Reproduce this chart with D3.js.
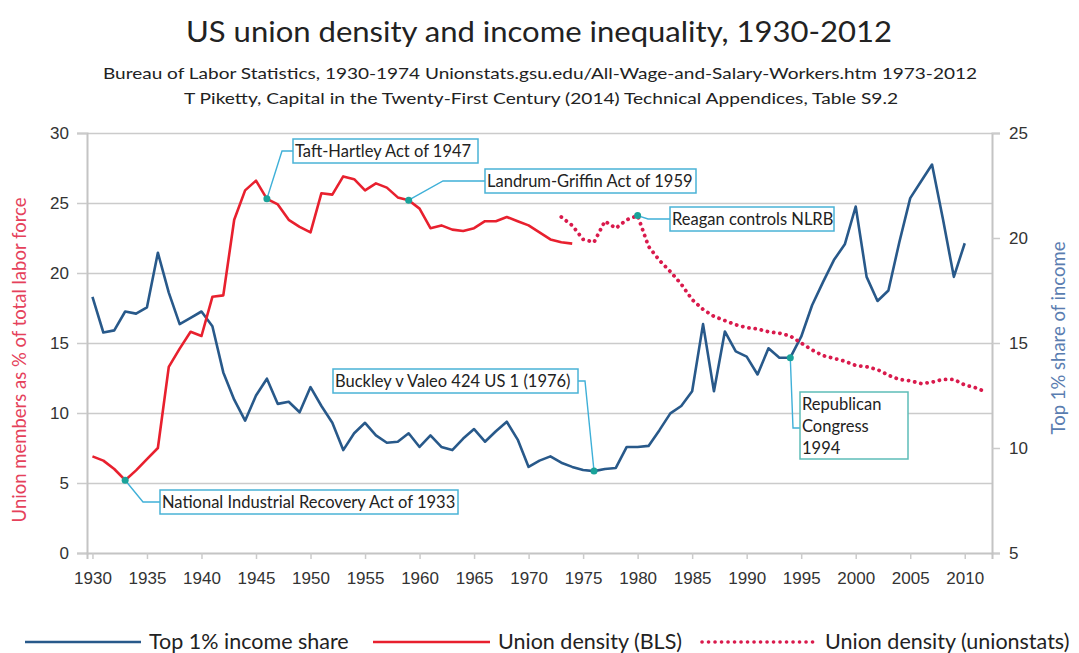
<!DOCTYPE html>
<html>
<head>
<meta charset="utf-8">
<script src="https://cdnjs.cloudflare.com/ajax/libs/d3/7.8.5/d3.min.js"></script>
<style>
  body { margin: 0; background: #fff; }
  svg { font-family: Lato, "Open Sans", sans-serif; }
  .grid line { stroke: #cbcbcb; stroke-width: 1.5; }
  .grid path { display: none; }
  .tick text { fill: #333; font-size: 17px; }
</style>
</head>
<body>
<div id="chart"></div>
<script>
// ---- data ----
var years = d3.range(1930, 2013);
var top_share = [17.2, 15.5, 15.6, 16.5, 16.4, 16.7, 19.3, 17.4, 15.9, 16.2,
  16.5, 15.8, 13.6, 12.3, 11.3, 12.5, 13.3, 12.1, 12.2, 11.7,
  12.9, 12.0, 11.2, 9.9, 10.7, 11.2, 10.6, 10.25, 10.3, 10.7,
  10.05, 10.6, 10.05, 9.9, 10.45, 10.9, 10.3, 10.8, 11.25, 10.4,
  9.1, 9.4, 9.6, 9.3, 9.1, 8.95, 8.9, 9.0, 9.05, 10.05,
  10.05, 10.1, 10.85, 11.65, 12.0, 12.7, 15.9, 12.7, 15.55, 14.6,
  14.35, 13.5, 14.75, 14.3, 14.3, 15.3, 16.8, 17.9, 18.95, 19.7,
  21.5, 18.15, 17.0, 17.5, 19.8, 21.9, 22.7, 23.5, 20.9, 18.15, 19.75]; // 1930-2010
var bls_density = [6.9, 6.6, 6.0, 5.2, 5.9, 6.7, 7.5, 13.3, 14.6, 15.8,
  15.5, 18.3, 18.4, 23.8, 25.9, 26.6, 25.3, 24.9, 23.8, 23.3,
  22.9, 25.7, 25.6, 26.9, 26.7, 25.9, 26.4, 26.1, 25.4, 25.2,
  24.6, 23.2, 23.4, 23.1, 23.0, 23.2, 23.7, 23.7, 24.0, 23.7,
  23.4, 22.9, 22.4, 22.2, 22.1]; // 1930-1974
var unionstats_density = [24.0, 23.4, 22.4, 22.2, 23.7, 23.2, 23.8, 24.1, 21.9, 20.9,
  20.1, 19.2, 18.1, 17.4, 16.9, 16.6, 16.3, 16.1, 16.0, 15.8,
  15.7, 15.5, 15.0, 14.5, 14.1, 13.9, 13.7, 13.4, 13.3, 13.1,
  12.7, 12.4, 12.3, 12.1, 12.2, 12.4, 12.4, 12.0, 11.8, 11.5]; // 1973-2012
var left_ticks = [0, 5, 10, 15, 20, 25, 30];
var right_ticks = [5, 10, 15, 20, 25];
var x_labels = d3.range(1930, 2011, 5);

// callouts: series + year they point at, and their text
var callouts = [
  {text: ['National Industrial Recovery Act of 1933'], series: 'bls', year: 1933},
  {text: ['Taft-Hartley Act of 1947'], series: 'bls', year: 1946},
  {text: ['Landrum-Griffin Act of 1959'], series: 'bls', year: 1959},
  {text: ['Reagan controls NLRB'], series: 'unionstats', year: 1980},
  {text: ['Buckley v Valeo 424 US 1 (1976)'], series: 'top', year: 1976},
  {text: ['Republican', 'Congress', '1994'], series: 'top', year: 1994}
];
// box layout for each callout: [x, y, w, h], attach point, elbow
var callout_layout = [
  {box: [160, 490, 298, 24], attach: [160, 502], elbow: [143, 502], border: '#4ab3d6'},
  {box: [293, 139, 185, 24], attach: [293, 151], elbow: [282, 151], border: '#4ab3d6'},
  {box: [485, 169, 211, 24], attach: [485, 181], elbow: [443, 181], border: '#4ab3d6'},
  {box: [670, 207, 164, 24], attach: [670, 219], elbow: [648, 219], border: '#4ab3d6'},
  {box: [333, 369, 245, 24], attach: [578, 381], elbow: [585, 381], border: '#4ab3d6'},
  {box: [800, 392, 108, 67], attach: [800, 428], elbow: [793, 428], border: '#5dbdb8'}
];

var W = 1079, H = 653;
var blue = '#28598a', red = '#e8202e', dotted = '#d91a4c';
var svg = d3.select('#chart').append('svg').attr('width', W).attr('height', H);

var x = d3.scaleLinear().domain([1929.5, 2012.5]).range([87, 992]);
var yL = d3.scaleLinear().domain([0, 30]).range([553, 133]);
var yR = d3.scaleLinear().domain([5, 25]).range([553, 133]);

// titles
svg.append('text').text('US union density and income inequality, 1930-2012')
  .attr('x', 186).attr('y', 42).attr('font-size', 29).attr('fill', '#222')
  .attr('textLength', 706).attr('lengthAdjust', 'spacingAndGlyphs');
svg.append('text').text('Bureau of Labor Statistics, 1930-1974  Unionstats.gsu.edu/All-Wage-and-Salary-Workers.htm  1973-2012')
  .attr('x', 103).attr('y', 79).attr('font-size', 15).attr('fill', '#222')
  .attr('textLength', 874).attr('lengthAdjust', 'spacingAndGlyphs');
svg.append('text').text('T Piketty, Capital in the Twenty-First Century (2014) Technical Appendices, Table S9.2')
  .attr('x', 184).attr('y', 104).attr('font-size', 15).attr('fill', '#222')
  .attr('textLength', 714).attr('lengthAdjust', 'spacingAndGlyphs');

// gridlines + left axis
var gl = svg.append('g').attr('class', 'grid').attr('transform', 'translate(87,0)')
  .call(d3.axisLeft(yL).tickValues(left_ticks).tickSize(-905).tickFormat(''));
gl.selectAll('line').filter(d => d === 0).remove();
var la = svg.append('g').attr('transform', 'translate(87,0)')
  .call(d3.axisLeft(yL).tickValues(left_ticks).tickSize(10).tickPadding(8));
la.select('.domain').attr('stroke', '#c4c4c4').attr('stroke-width', 2);
la.selectAll('.tick line').attr('stroke', '#cbcbcb').attr('stroke-width', 1.5);

var ra = svg.append('g').attr('transform', 'translate(992,0)')
  .call(d3.axisRight(yR).tickValues(right_ticks).tickSize(8).tickPadding(9));
ra.select('.domain').attr('stroke', '#c4c4c4').attr('stroke-width', 2);
ra.selectAll('.tick line').attr('stroke', '#cbcbcb').attr('stroke-width', 1.5);

var xa = svg.append('g').attr('transform', 'translate(0,553)')
  .call(d3.axisBottom(x).tickValues(x_labels).tickFormat(d3.format('d')).tickSize(6).tickPadding(13));
xa.select('.domain').attr('stroke', '#c4c4c4').attr('stroke-width', 2);
xa.selectAll('.tick line').attr('stroke', '#cbcbcb').attr('stroke-width', 1.5);

svg.append('text').text('Union members as % of total labor force')
  .attr('transform', 'translate(26,360) rotate(-90)').attr('text-anchor', 'middle')
  .attr('font-size', 18.5).attr('fill', '#e5415b');
svg.append('text').text('Top 1% share of income')
  .attr('transform', 'translate(1065,338) rotate(-90)').attr('text-anchor', 'middle')
  .attr('font-size', 18.5).attr('fill', '#5a7db0');

// series
var top_pts = top_share.map((v, i) => [years[i], v]);
var bls_pts = bls_density.map((v, i) => [years[i], v]);
var us_pts = unionstats_density.map((v, i) => [1973 + i, v]);
var lineL = d3.line().x(d => x(d[0])).y(d => yL(d[1]));
var lineR = d3.line().x(d => x(d[0])).y(d => yR(d[1]));

svg.append('path').datum(top_pts).attr('d', lineR).attr('fill', 'none')
  .attr('stroke', blue).attr('stroke-width', 2.6).attr('stroke-linejoin', 'round');
svg.append('path').datum(bls_pts).attr('d', lineL).attr('fill', 'none')
  .attr('stroke', red).attr('stroke-width', 2.6).attr('stroke-linejoin', 'round');
svg.append('path').datum(us_pts).attr('d', lineL).attr('fill', 'none')
  .attr('stroke', dotted).attr('stroke-width', 3.8).attr('stroke-linecap', 'round')
  .attr('stroke-dasharray', '0.1 6.2');

// callouts
var lookup = {top: [top_pts, yR], bls: [bls_pts, yL], unionstats: [us_pts, yL]};
callouts.forEach((c, i) => {
  var lay = callout_layout[i];
  var s = lookup[c.series];
  var pt = s[0].find(d => d[0] === c.year);
  var ax = x(pt[0]), ay = s[1](pt[1]);
  svg.append('polyline')
    .attr('points', [lay.attach, lay.elbow, [ax, ay]].map(p => p.join(',')).join(' '))
    .attr('fill', 'none').attr('stroke', '#3fb0d8').attr('stroke-width', 1.4);
  svg.append('rect').attr('x', lay.box[0]).attr('y', lay.box[1])
    .attr('width', lay.box[2]).attr('height', lay.box[3])
    .attr('fill', '#fff').attr('stroke', lay.border).attr('stroke-width', 1.5);
  c.text.forEach((t, j) => {
    svg.append('text').text(t).attr('x', lay.box[0] + 2)
      .attr('y', lay.box[1] + 18 + j * 22).attr('font-size', 16.5).attr('fill', '#222');
  });
  svg.append('circle').attr('cx', ax).attr('cy', ay).attr('r', 3.5).attr('fill', '#1aa39a');
});

// legend
var legend = [
  {label: 'Top 1% income share', color: blue, x1: 25, x2: 141, dash: null, w: 2.6},
  {label: 'Union density (BLS)', color: red, x1: 373, x2: 490, dash: null, w: 2.6},
  {label: 'Union density (unionstats)', color: dotted, x1: 702, x2: 817, dash: '0.1 6.4', w: 3.6}
];
legend.forEach(l => {
  svg.append('line').attr('x1', l.x1).attr('x2', l.x2).attr('y1', 642).attr('y2', 642)
    .attr('stroke', l.color).attr('stroke-width', l.w)
    .attr('stroke-dasharray', l.dash).attr('stroke-linecap', l.dash ? 'round' : 'butt');
  svg.append('text').text(l.label).attr('x', l.x2 + 8).attr('y', 649)
    .attr('font-size', 21.5).attr('fill', '#222');
});
</script>
</body>
</html>
